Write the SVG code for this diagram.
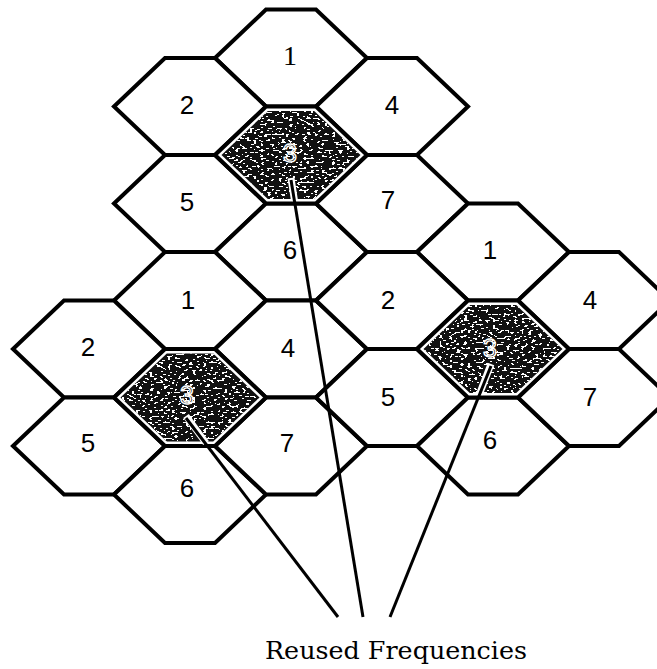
<svg xmlns="http://www.w3.org/2000/svg" xmlns:xlink="http://www.w3.org/1999/xlink" width="657" height="669" viewBox="0 0 657 669">
  <style>
    .cell { fill: #fff; stroke: #000; stroke-width: 4; stroke-linejoin: miter; }
    .core { fill: #111; }
    .lbl { font-family: "Liberation Sans", Arial, sans-serif; font-size: 26px; fill: #000; text-anchor: middle; }
    .lbl-serif { font-family: "Liberation Serif", "Times New Roman", serif; font-size: 28px; fill: #000; text-anchor: middle; }
    .lbl-rev { font-family: "Liberation Sans", Arial, sans-serif; font-size: 25px; fill: none; stroke: #fff; stroke-width: 1.4; text-anchor: middle; }
    .lead { stroke: #000; stroke-width: 3; fill: none; stroke-linecap: butt; }
    .halo { stroke: #fff; stroke-width: 7; fill: none; }
    .caption { font-family: "DejaVu Serif", "Liberation Serif", serif; font-size: 25px; fill: #000; }
  </style>
  <defs>
    <!-- flat-topped cell outline, centred on the origin -->
    <polygon id="hex" points="-76,0 -25,-48.5 25,-48.5 76,0 25,48.5 -25,48.5"/>
    <!-- inset area that carries the stipple in a reused cell -->
    <polygon id="hexIn" points="-69.5,0 -23.2,-44 23.2,-44 69.5,0 23.2,44 -23.2,44"/>
    <clipPath id="clipA"><use xlink:href="#hexIn" x="291" y="155"/></clipPath>
    <clipPath id="clipB"><use xlink:href="#hexIn" x="190" y="397.5"/></clipPath>
    <clipPath id="clipC"><use xlink:href="#hexIn" x="493" y="349"/></clipPath>
    <!-- white speckles on a dark ground -->
    <filter id="speck" x="0" y="0" width="1" height="1" color-interpolation-filters="sRGB">
      <feTurbulence type="fractalNoise" baseFrequency="0.28 0.5" numOctaves="1" seed="7" result="n"/>
      <feColorMatrix in="n" type="matrix" values="0 0 0 0 1  0 0 0 0 1  0 0 0 0 1  1 0 0 0 0"/>
      <feComponentTransfer>
        <feFuncA type="discrete" tableValues="0 0 0 0 0 0 0 0 0 0 0 0 1 1 1 1 1 1 1 1"/>
      </feComponentTransfer>
    </filter>
  </defs>

  <!-- upper cluster -->
  <g id="a1"><use xlink:href="#hex" x="291" y="58" class="cell"/><text x="290" y="65" class="lbl-serif">1</text></g>
  <g id="a2"><use xlink:href="#hex" x="190" y="106.5" class="cell"/><text x="187" y="114" class="lbl">2</text></g>
  <g id="a4"><use xlink:href="#hex" x="392" y="106.5" class="cell"/><text x="392" y="114" class="lbl">4</text></g>
  <g id="a5"><use xlink:href="#hex" x="190" y="203.5" class="cell"/><text x="187" y="211" class="lbl">5</text></g>
  <g id="a6"><use xlink:href="#hex" x="291" y="252" class="cell"/><text x="290" y="259" class="lbl">6</text></g>
  <g id="a7"><use xlink:href="#hex" x="392" y="203.5" class="cell"/><text x="388" y="209" class="lbl">7</text></g>

  <!-- lower-left cluster -->
  <g id="b1"><use xlink:href="#hex" x="190" y="300.5" class="cell"/><text x="188" y="309" class="lbl">1</text></g>
  <g id="b2"><use xlink:href="#hex" x="89" y="349" class="cell"/><text x="88" y="356" class="lbl">2</text></g>
  <g id="b4"><use xlink:href="#hex" x="291" y="349" class="cell"/><text x="288" y="357" class="lbl">4</text></g>
  <g id="b5"><use xlink:href="#hex" x="89" y="446" class="cell"/><text x="88" y="452" class="lbl">5</text></g>
  <g id="b6"><use xlink:href="#hex" x="190" y="494.5" class="cell"/><text x="187" y="497" class="lbl">6</text></g>
  <g id="b7"><use xlink:href="#hex" x="291" y="446" class="cell"/><text x="287" y="452" class="lbl">7</text></g>

  <!-- right cluster -->
  <g id="c1"><use xlink:href="#hex" x="493" y="252" class="cell"/><text x="490" y="259" class="lbl">1</text></g>
  <g id="c2"><use xlink:href="#hex" x="392" y="300.5" class="cell"/><text x="388" y="309" class="lbl">2</text></g>
  <g id="c4"><use xlink:href="#hex" x="594" y="300.5" class="cell"/><text x="590" y="309" class="lbl">4</text></g>
  <g id="c5"><use xlink:href="#hex" x="392" y="397.5" class="cell"/><text x="388" y="406" class="lbl">5</text></g>
  <g id="c6"><use xlink:href="#hex" x="493" y="446" class="cell"/><text x="490" y="449" class="lbl">6</text></g>
  <g id="c7"><use xlink:href="#hex" x="594" y="397.5" class="cell"/><text x="590" y="406" class="lbl">7</text></g>

  <!-- reused cells (channel set 3) -->
  <g id="a3">
    <use xlink:href="#hex" x="291" y="155" class="cell"/>
    <use xlink:href="#hexIn" x="291" y="155" class="core"/>
    <rect x="218" y="108" width="146" height="94" filter="url(#speck)" clip-path="url(#clipA)"/>
    <text x="290" y="162" class="lbl-rev">3</text>
  </g>
  <g id="b3">
    <use xlink:href="#hex" x="190" y="397.5" class="cell"/>
    <use xlink:href="#hexIn" x="190" y="397.5" class="core"/>
    <rect x="117" y="350" width="146" height="94" filter="url(#speck)" clip-path="url(#clipB)"/>
    <text x="187" y="404" class="lbl-rev">3</text>
  </g>
  <g id="c3">
    <use xlink:href="#hex" x="493" y="349" class="cell"/>
    <use xlink:href="#hexIn" x="493" y="349" class="core"/>
    <rect x="420" y="302" width="146" height="94" filter="url(#speck)" clip-path="url(#clipC)"/>
    <text x="490" y="357" class="lbl-rev">3</text>
  </g>

  <!-- leader lines to the caption -->
  <g id="connectors">
    <line class="halo" x1="291" y1="178" x2="294.4" y2="200"/>
    <line class="halo" x1="186" y1="416" x2="206" y2="443"/>
    <line class="halo" x1="491" y1="364" x2="479.5" y2="394"/>
    <line class="lead" x1="291" y1="180" x2="363" y2="617"/>
    <line class="lead" x1="186" y1="418" x2="338" y2="617"/>
    <line class="lead" x1="491" y1="366" x2="390" y2="617"/>
  </g>

  <text id="caption" x="265" y="659" class="caption" textLength="262" lengthAdjust="spacingAndGlyphs">Reused Frequencies</text>
</svg>
